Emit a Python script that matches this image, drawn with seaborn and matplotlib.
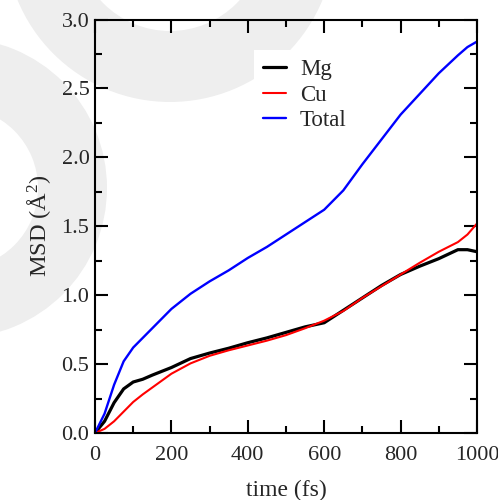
import matplotlib
matplotlib.use("Agg")
import matplotlib.pyplot as plt
from matplotlib.patches import Wedge
from matplotlib.ticker import MultipleLocator
import seaborn as sns
import pandas as pd

# ---- data ----
time_fs = [0, 25, 50, 75, 100, 125, 150, 200, 250, 300, 350, 400, 450, 500,
           550, 600, 650, 700, 750, 800, 850, 900, 950, 975, 1000]
msd_mg = [0.0, 0.085, 0.22, 0.32, 0.37, 0.39, 0.42, 0.475, 0.54, 0.58, 0.615,
          0.655, 0.69, 0.73, 0.77, 0.80, 0.89, 0.98, 1.07, 1.15, 1.21, 1.265,
          1.33, 1.33, 1.315]
msd_cu = [0.0, 0.03, 0.085, 0.155, 0.225, 0.28, 0.33, 0.43, 0.505, 0.56, 0.60,
          0.635, 0.67, 0.71, 0.76, 0.815, 0.885, 0.98, 1.065, 1.15, 1.235, 1.315,
          1.385, 1.44, 1.52]
msd_total = [0.0, 0.14, 0.35, 0.52, 0.62, 0.69, 0.76, 0.90, 1.01, 1.10, 1.18,
             1.27, 1.35, 1.44, 1.53, 1.62, 1.76, 1.95, 2.13, 2.31, 2.46, 2.61,
             2.74, 2.80, 2.84]
series_names = ["Mg", "Cu", "Total"]
series_colors = ["black", "#ff0000", "#0000ff"]
series_widths = [2.3, 1.5, 1.7]

x_ticks = [0, 200, 400, 600, 800, 1000]
y_ticks = [0.0, 0.5, 1.0, 1.5, 2.0, 2.5, 3.0]

# ---- style ----
sns.set_style("white")
plt.rcParams["font.family"] = ["Liberation Serif", "DejaVu Serif"]
plt.rcParams["mathtext.fontset"] = "custom"
plt.rcParams["mathtext.rm"] = "Liberation Serif"
plt.rcParams["mathtext.it"] = "Liberation Serif:italic"

fig = plt.figure(figsize=(4.98, 5.0), dpi=100)
fig.patch.set_facecolor("white")

# light grey background watermark arcs (decoration, behind everything)
wm = "#eeeeee"
fig.patches.append(Wedge((1.70, 5.63), 1.65, 0, 360, width=0.71,
                         transform=fig.dpi_scale_trans, facecolor=wm,
                         edgecolor="none", zorder=-10))
fig.patches.append(Wedge((-0.43, 3.12), 1.50, 0, 360, width=0.69,
                         transform=fig.dpi_scale_trans, facecolor=wm,
                         edgecolor="none", zorder=-10))

ax = fig.add_axes([95 / 498, 1 - 433 / 500, (477 - 95) / 498, (433 - 19.5) / 500])
ax.set_facecolor("none")
ax.set_zorder(1)

df = pd.DataFrame({"time": time_fs, "Mg": msd_mg, "Cu": msd_cu, "Total": msd_total})
for name, col, lw in zip(series_names, series_colors, series_widths):
    sns.lineplot(data=df, x="time", y=name, color=col, linewidth=lw,
                 label=name, ax=ax)

ax.set_xlim(0, 1000)
ax.set_ylim(0, 3.0)
ax.set_xticks(x_ticks)
ax.set_yticks(y_ticks)
ax.set_xticklabels([str(v) for v in x_ticks])
ax.set_yticklabels([f"{v:.1f}" for v in y_ticks])
ax.xaxis.set_minor_locator(MultipleLocator(100))
ax.yaxis.set_minor_locator(MultipleLocator(0.25))

for s in ax.spines.values():
    s.set_visible(True)
    s.set_linewidth(1.5)
    s.set_color("black")

ax.tick_params(which="both", direction="in", top=True, right=True,
               bottom=True, left=True, width=1.5, color="black")
ax.tick_params(which="major", length=9.2, labelsize=16)
ax.tick_params(which="minor", length=5)
ax.tick_params(axis="x", which="major", pad=9)
ax.tick_params(axis="y", which="major", pad=4)

ax.set_xlabel("time (fs)", fontsize=17, labelpad=11)
ax.set_ylabel("MSD (Å$^2$)", fontsize=17.5, labelpad=6)

leg = ax.legend(loc="upper left", bbox_to_anchor=(254 / 498, 1 - 50 / 500),
                bbox_transform=fig.transFigure, fontsize=16.5, frameon=True,
                fancybox=False, framealpha=1, facecolor="white",
                edgecolor="none", handlelength=1.0, handletextpad=0.6,
                labelspacing=0.2, borderpad=0.4, borderaxespad=0)

fig.savefig("out.png", dpi=100)
